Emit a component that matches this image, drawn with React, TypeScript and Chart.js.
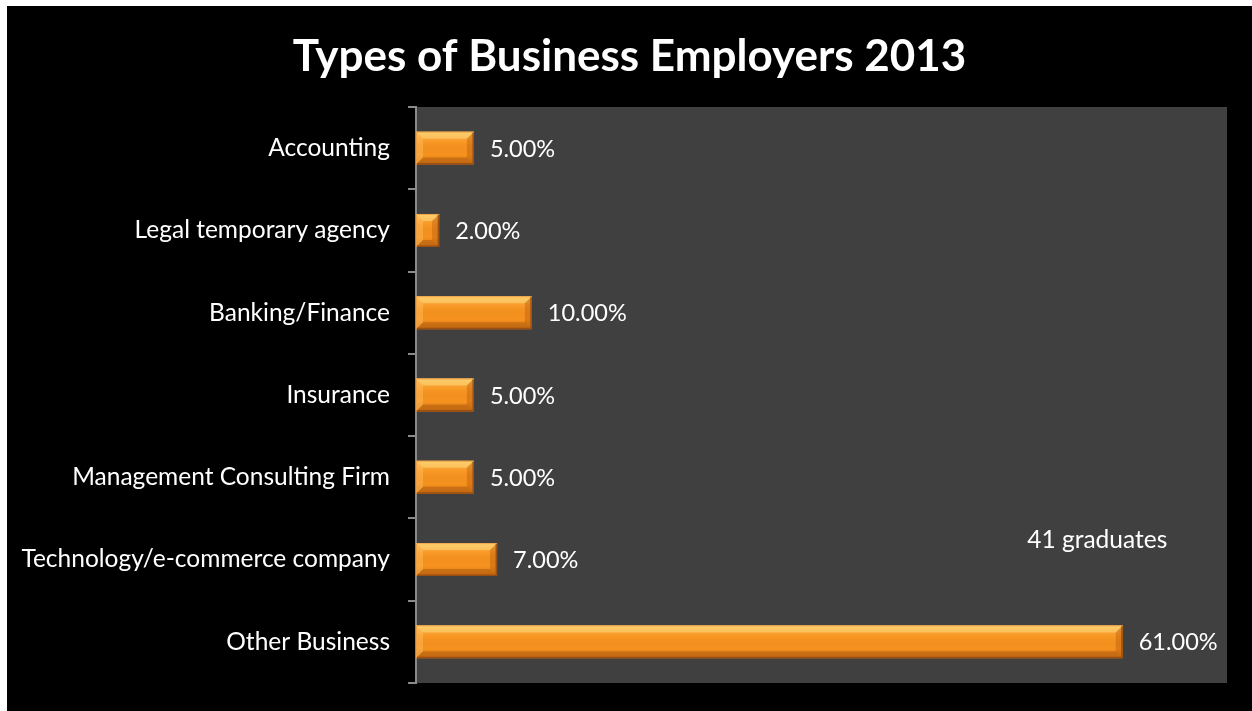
import React, { useEffect, useRef } from "react";
import { Chart, registerables } from "chart.js";

Chart.register(...registerables);

const titleText = "Types of Business Employers 2013";
const categories = [
  "Accounting",
  "Legal temporary agency",
  "Banking/Finance",
  "Insurance",
  "Management Consulting Firm",
  "Technology/e-commerce company",
  "Other Business",
];
const values = [5, 2, 10, 5, 5, 7, 61];
const noteText = "41 graduates";
const xMax = 70;

const FONT = "Lato, 'Open Sans', sans-serif";

const plotBgPlugin = {
  id: "plotBg",
  beforeDraw(chart: any) {
    const { ctx, chartArea } = chart;
    ctx.save();
    ctx.fillStyle = "#404040";
    ctx.fillRect(chartArea.left, chartArea.top, chartArea.right - chartArea.left, chartArea.bottom - chartArea.top);
    ctx.restore();
  },
};

const bevelPlugin = {
  id: "bevel",
  afterDatasetsDraw(chart: any) {
    const { ctx } = chart;
    const meta = chart.getDatasetMeta(0);
    ctx.save();
    meta.data.forEach((bar: any) => {
      const { x, y, base, height } = bar.getProps(["x", "y", "base", "height"], true);
      const left = Math.min(base, x);
      const right = Math.max(base, x);
      const top = y - height / 2;
      const bottom = y + height / 2;
      const d = Math.min(7, (right - left) / 2, height / 2);
      const g = ctx.createLinearGradient(0, top, 0, bottom);
      g.addColorStop(0, "rgba(255,220,120,0.6)");
      g.addColorStop(0.35, "rgba(255,190,90,0.08)");
      g.addColorStop(0.7, "rgba(0,0,0,0)");
      g.addColorStop(1, "rgba(110,45,0,0.2)");
      ctx.fillStyle = g;
      ctx.fillRect(left, top, right - left, height);
      const poly = (pts: number[][], color: string) => {
        ctx.beginPath();
        ctx.moveTo(pts[0][0], pts[0][1]);
        for (let i = 1; i < pts.length; i++) ctx.lineTo(pts[i][0], pts[i][1]);
        ctx.closePath();
        ctx.fillStyle = color;
        ctx.fill();
      };
      poly([[left, top], [right, top], [right - d, top + d], [left + d, top + d]], "rgba(255,228,140,0.45)");
      poly([[left, bottom], [right, bottom], [right - d, bottom - d], [left + d, bottom - d]], "rgba(150,65,5,0.35)");
      poly([[left, top], [left + d, top + d], [left + d, bottom - d], [left, bottom]], "rgba(255,205,115,0.35)");
      poly([[right, top], [right - d, top + d], [right - d, bottom - d], [right, bottom]], "rgba(160,70,5,0.3)");
      ctx.strokeStyle = "rgba(150,75,20,0.9)";
      ctx.lineWidth = 1.5;
      ctx.beginPath();
      ctx.moveTo(left, bottom - 0.75);
      ctx.lineTo(right - 0.75, bottom - 0.75);
      ctx.lineTo(right - 0.75, top);
      ctx.stroke();
      ctx.strokeStyle = "rgba(240,160,70,0.9)";
      ctx.lineWidth = 1;
      ctx.beginPath();
      ctx.moveTo(left + 0.5, bottom);
      ctx.lineTo(left + 0.5, top + 0.5);
      ctx.lineTo(right, top + 0.5);
      ctx.stroke();
    });
    ctx.restore();
  },
};

const labelPlugin = {
  id: "valueLabels",
  afterDatasetsDraw(chart: any) {
    const { ctx, chartArea } = chart;
    const meta = chart.getDatasetMeta(0);
    ctx.save();
    ctx.fillStyle = "#ffffff";
    ctx.font = `23.5px ${FONT}`;
    ctx.textAlign = "left";
    ctx.textBaseline = "middle";
    meta.data.forEach((bar: any, i: number) => {
      ctx.fillText(values[i].toFixed(2) + "%", bar.x + 16, bar.y + 1);
    });
    ctx.font = `24.5px ${FONT}`;
    ctx.textAlign = "center";
    const w = chartArea.right - chartArea.left;
    const h = chartArea.bottom - chartArea.top;
    ctx.fillText(noteText, chartArea.left + w * 0.84, chartArea.top + h * 0.752);
    ctx.restore();
  },
};

export default function App() {
  const ref = useRef<HTMLCanvasElement>(null);
  useEffect(() => {
    document.body.style.margin = "0";
    const chart = new Chart(ref.current!, {
      type: "bar",
      data: {
        labels: categories,
        datasets: [
          {
            data: values,
            backgroundColor: "#F7921E",
            borderWidth: 0,
            categoryPercentage: 1,
            barPercentage: 0.4,
          },
        ],
      },
      options: {
        indexAxis: "y",
        responsive: false,
        animation: false,
        layout: { padding: 0 },
        plugins: {
          legend: { display: false },
          tooltip: { enabled: false },
          title: {
            display: true,
            text: titleText,
            color: "#ffffff",
            font: { family: FONT, size: 44, weight: "bold" },
            padding: { top: 24.6, bottom: 23.6 },
          },
        },
        scales: {
          x: { display: false, min: 0, max: xMax },
          y: {
            afterFit(scale: any) {
              scale.width = 409;
              scale.paddingTop = 0;
              scale.paddingBottom = 28;
              scale.paddingLeft = 0;
              scale.paddingRight = 25;
            },
            ticks: {
              color: "#ffffff",
              font: { family: FONT, size: 24.5 },
              padding: 18,
            },
            grid: {
              display: true,
              drawOnChartArea: false,
              drawTicks: true,
              tickLength: 8,
              color: "#8a8a8a",
              lineWidth: 2,
            },
            border: { display: true, color: "#8a8a8a", width: 2 },
          },
        },
      },
      plugins: [plotBgPlugin, bevelPlugin, labelPlugin],
    });
    return () => chart.destroy();
  }, []);
  return (
    <div style={{ position: "relative", width: 1252, height: 711, background: "#ffffff" }}>
      <div style={{ position: "absolute", left: 7, top: 6, width: 1245, height: 705, background: "#000000" }}>
        <canvas ref={ref} width={1245} height={705} style={{ display: "block" }} />
      </div>
    </div>
  );
}
